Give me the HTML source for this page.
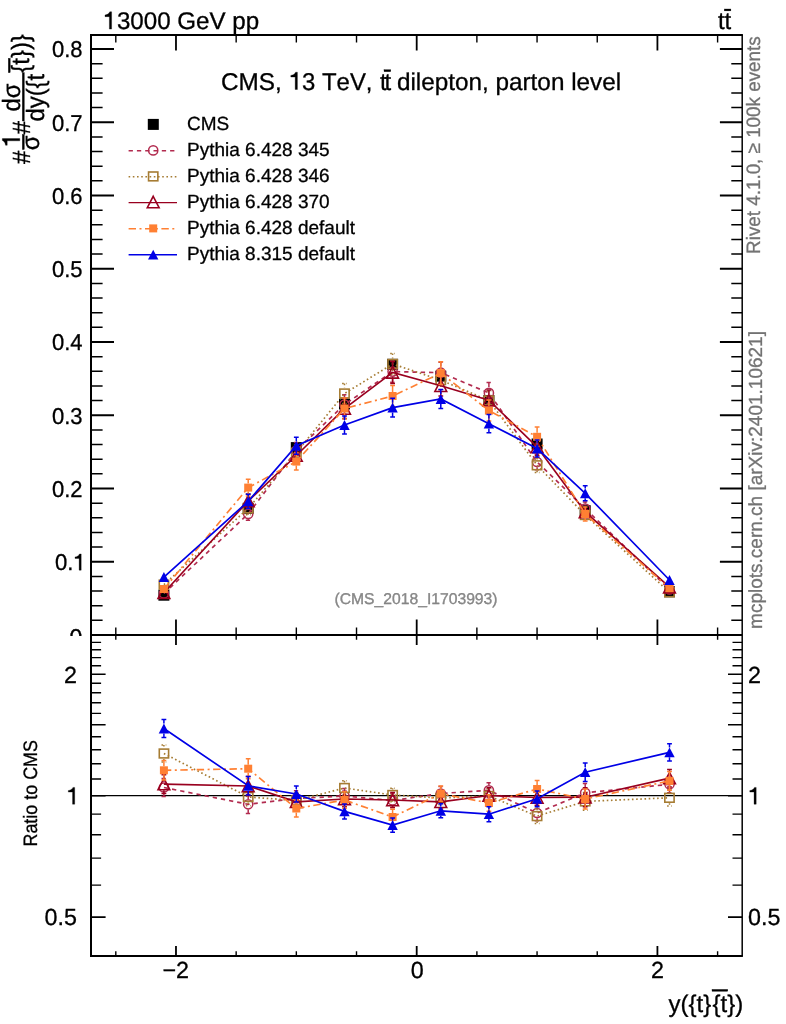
<!DOCTYPE html>
<html><head><meta charset="utf-8"><title>plot</title>
<style>html,body{margin:0;padding:0;background:#fff}svg{display:block;will-change:transform}text{font-kerning:none}</style></head>
<body>
<svg width="786" height="1024" viewBox="0 0 786 1024" font-family="Liberation Sans, sans-serif" text-rendering="geometricPrecision">
<rect width="786" height="1024" fill="#fff"/>
<defs><clipPath id="cm"><rect x="91.0" y="35.0" width="651.0" height="600.0"/></clipPath><clipPath id="cr"><rect x="91.0" y="635.0" width="651.0" height="321.0"/></clipPath></defs>
<g clip-path="url(#cm)">
<rect x="158.4" y="589.7" width="11" height="11" fill="#000"/>
<rect x="242.7" y="502.8" width="11" height="11" fill="#000"/>
<rect x="290.8" y="442.1" width="11" height="11" fill="#000"/>
<rect x="339.0" y="398.5" width="11" height="11" fill="#000"/>
<rect x="387.1" y="358.8" width="11" height="11" fill="#000"/>
<rect x="435.3" y="370.7" width="11" height="11" fill="#000"/>
<rect x="483.4" y="395.0" width="11" height="11" fill="#000"/>
<rect x="531.6" y="438.5" width="11" height="11" fill="#000"/>
<rect x="579.7" y="505.2" width="11" height="11" fill="#000"/>
<rect x="664.0" y="586.3" width="11" height="11" fill="#000"/>
<polyline points="163.9,593.5 248.2,513.9 296.3,450.6 344.5,404.5 392.6,371.6 440.8,372.7 488.9,392.9 537.1,462.0 585.2,508.6 669.5,589.5" fill="none" stroke="#b22b4f" stroke-width="1.68" stroke-dasharray="4.3 4"/>
<path d="M248.2 507.6V508.7M248.2 519.1V520.2M245.8 507.6h4.8M245.8 520.2h4.8" stroke="#b22b4f" stroke-width="1.5" fill="none" stroke-dasharray="4.3 4"/>
<path d="M296.3 442.4V445.4M296.3 455.8V458.8M293.9 442.4h4.8M293.9 458.8h4.8" stroke="#b22b4f" stroke-width="1.5" fill="none" stroke-dasharray="4.3 4"/>
<path d="M344.5 394.7V399.3M344.5 409.7V414.3M342.1 394.7h4.8M342.1 414.3h4.8" stroke="#b22b4f" stroke-width="1.5" fill="none" stroke-dasharray="4.3 4"/>
<path d="M392.6 360.9V366.4M392.6 376.8V382.3M390.2 360.9h4.8M390.2 382.3h4.8" stroke="#b22b4f" stroke-width="1.5" fill="none" stroke-dasharray="4.3 4"/>
<path d="M440.8 362.3V367.5M440.8 377.9V383.1M438.4 362.3h4.8M438.4 383.1h4.8" stroke="#b22b4f" stroke-width="1.5" fill="none" stroke-dasharray="4.3 4"/>
<path d="M488.9 382.6V387.7M488.9 398.1V403.2M486.5 382.6h4.8M486.5 403.2h4.8" stroke="#b22b4f" stroke-width="1.5" fill="none" stroke-dasharray="4.3 4"/>
<path d="M537.1 454.3V456.8M537.1 467.2V469.7M534.7 454.3h4.8M534.7 469.7h4.8" stroke="#b22b4f" stroke-width="1.5" fill="none" stroke-dasharray="4.3 4"/>
<path d="M585.2 502.0V503.4M585.2 513.8V515.2M582.8 502.0h4.8M582.8 515.2h4.8" stroke="#b22b4f" stroke-width="1.5" fill="none" stroke-dasharray="4.3 4"/>
<circle cx="163.9" cy="593.5" r="4.6" fill="none" stroke="#b22b4f" stroke-width="1.5"/>
<circle cx="248.2" cy="513.9" r="4.6" fill="none" stroke="#b22b4f" stroke-width="1.5"/>
<circle cx="296.3" cy="450.6" r="4.6" fill="none" stroke="#b22b4f" stroke-width="1.5"/>
<circle cx="344.5" cy="404.5" r="4.6" fill="none" stroke="#b22b4f" stroke-width="1.5"/>
<circle cx="392.6" cy="371.6" r="4.6" fill="none" stroke="#b22b4f" stroke-width="1.5"/>
<circle cx="440.8" cy="372.7" r="4.6" fill="none" stroke="#b22b4f" stroke-width="1.5"/>
<circle cx="488.9" cy="392.9" r="4.6" fill="none" stroke="#b22b4f" stroke-width="1.5"/>
<circle cx="537.1" cy="462.0" r="4.6" fill="none" stroke="#b22b4f" stroke-width="1.5"/>
<circle cx="585.2" cy="508.6" r="4.6" fill="none" stroke="#b22b4f" stroke-width="1.5"/>
<circle cx="669.5" cy="589.5" r="4.6" fill="none" stroke="#b22b4f" stroke-width="1.5"/>
<polyline points="163.9,584.6 248.2,508.4 296.3,452.7 344.5,393.5 392.6,364.0 440.8,380.1 488.9,400.5 537.1,465.3 585.2,515.0 669.5,592.3" fill="none" stroke="#a67c33" stroke-width="1.68" stroke-dasharray="1.6 2.6"/>
<path d="M248.2 502.0V503.0M248.2 513.8V514.8M245.8 502.0h4.8M245.8 514.8h4.8" stroke="#a67c33" stroke-width="1.5" fill="none" stroke-dasharray="1.6 2.6"/>
<path d="M296.3 444.9V447.3M296.3 458.1V460.5M293.9 444.9h4.8M293.9 460.5h4.8" stroke="#a67c33" stroke-width="1.5" fill="none" stroke-dasharray="1.6 2.6"/>
<path d="M344.5 383.6V388.1M344.5 398.9V403.4M342.1 383.6h4.8M342.1 403.4h4.8" stroke="#a67c33" stroke-width="1.5" fill="none" stroke-dasharray="1.6 2.6"/>
<path d="M392.6 353.4V358.6M392.6 369.4V374.6M390.2 353.4h4.8M390.2 374.6h4.8" stroke="#a67c33" stroke-width="1.5" fill="none" stroke-dasharray="1.6 2.6"/>
<path d="M440.8 370.4V374.7M440.8 385.5V389.8M438.4 370.4h4.8M438.4 389.8h4.8" stroke="#a67c33" stroke-width="1.5" fill="none" stroke-dasharray="1.6 2.6"/>
<path d="M488.9 390.9V395.1M488.9 405.9V410.1M486.5 390.9h4.8M486.5 410.1h4.8" stroke="#a67c33" stroke-width="1.5" fill="none" stroke-dasharray="1.6 2.6"/>
<path d="M537.1 458.0V459.9M537.1 470.7V472.6M534.7 458.0h4.8M534.7 472.6h4.8" stroke="#a67c33" stroke-width="1.5" fill="none" stroke-dasharray="1.6 2.6"/>
<rect x="159.29" y="580.20" width="9.3" height="8.8" fill="none" stroke="#a67c33" stroke-width="1.6"/>
<rect x="243.55" y="504.00" width="9.3" height="8.8" fill="none" stroke="#a67c33" stroke-width="1.6"/>
<rect x="291.69" y="448.30" width="9.3" height="8.8" fill="none" stroke="#a67c33" stroke-width="1.6"/>
<rect x="339.83" y="389.10" width="9.3" height="8.8" fill="none" stroke="#a67c33" stroke-width="1.6"/>
<rect x="387.98" y="359.60" width="9.3" height="8.8" fill="none" stroke="#a67c33" stroke-width="1.6"/>
<rect x="436.12" y="375.70" width="9.3" height="8.8" fill="none" stroke="#a67c33" stroke-width="1.6"/>
<rect x="484.27" y="396.10" width="9.3" height="8.8" fill="none" stroke="#a67c33" stroke-width="1.6"/>
<rect x="532.41" y="460.90" width="9.3" height="8.8" fill="none" stroke="#a67c33" stroke-width="1.6"/>
<rect x="580.55" y="510.60" width="9.3" height="8.8" fill="none" stroke="#a67c33" stroke-width="1.6"/>
<rect x="664.81" y="587.90" width="9.3" height="8.8" fill="none" stroke="#a67c33" stroke-width="1.6"/>
<polyline points="163.9,592.7 248.2,501.1 296.3,455.5 344.5,408.6 392.6,372.4 440.8,385.8 488.9,400.2 537.1,447.0 585.2,512.0 669.5,587.2" fill="none" stroke="#99001f" stroke-width="1.68"/>
<path d="M248.2 493.9V494.9M248.2 507.3V508.3M245.8 493.9h4.8M245.8 508.3h4.8" stroke="#99001f" stroke-width="1.5" fill="none"/>
<path d="M296.3 447.2V449.3M296.3 461.7V463.8M293.9 447.2h4.8M293.9 463.8h4.8" stroke="#99001f" stroke-width="1.5" fill="none"/>
<path d="M344.5 398.6V402.4M344.5 414.8V418.6M342.1 398.6h4.8M342.1 418.6h4.8" stroke="#99001f" stroke-width="1.5" fill="none"/>
<path d="M392.6 361.4V366.2M392.6 378.6V383.4M390.2 361.4h4.8M390.2 383.4h4.8" stroke="#99001f" stroke-width="1.5" fill="none"/>
<path d="M440.8 375.6V379.6M440.8 392.0V396.0M438.4 375.6h4.8M438.4 396.0h4.8" stroke="#99001f" stroke-width="1.5" fill="none"/>
<path d="M488.9 389.9V394.0M488.9 406.4V410.5M486.5 389.9h4.8M486.5 410.5h4.8" stroke="#99001f" stroke-width="1.5" fill="none"/>
<path d="M537.1 438.4V440.8M537.1 453.2V455.6M534.7 438.4h4.8M534.7 455.6h4.8" stroke="#99001f" stroke-width="1.5" fill="none"/>
<path d="M163.9 587.0 L169.8 598.4 L158.0 598.4 Z" fill="none" stroke="#99001f" stroke-width="1.6"/>
<path d="M248.2 495.4 L254.1 506.8 L242.3 506.8 Z" fill="none" stroke="#99001f" stroke-width="1.6"/>
<path d="M296.3 449.8 L302.2 461.2 L290.4 461.2 Z" fill="none" stroke="#99001f" stroke-width="1.6"/>
<path d="M344.5 402.9 L350.4 414.3 L338.6 414.3 Z" fill="none" stroke="#99001f" stroke-width="1.6"/>
<path d="M392.6 366.7 L398.5 378.1 L386.7 378.1 Z" fill="none" stroke="#99001f" stroke-width="1.6"/>
<path d="M440.8 380.1 L446.7 391.5 L434.9 391.5 Z" fill="none" stroke="#99001f" stroke-width="1.6"/>
<path d="M488.9 394.5 L494.8 405.9 L483.0 405.9 Z" fill="none" stroke="#99001f" stroke-width="1.6"/>
<path d="M537.1 441.3 L543.0 452.7 L531.2 452.7 Z" fill="none" stroke="#99001f" stroke-width="1.6"/>
<path d="M585.2 506.3 L591.1 517.7 L579.3 517.7 Z" fill="none" stroke="#99001f" stroke-width="1.6"/>
<path d="M669.5 581.5 L675.4 592.9 L663.6 592.9 Z" fill="none" stroke="#99001f" stroke-width="1.6"/>
<polyline points="163.9,589.0 248.2,487.6 296.3,461.6 344.5,408.5 392.6,396.0 440.8,373.1 488.9,410.6 537.1,436.8 585.2,514.0 669.5,588.2" fill="none" stroke="#ff8033" stroke-width="1.68" stroke-dasharray="7.4 3.5 2 3.5"/>
<path d="M248.2 479.2V483.6M248.2 491.6V496.0M245.8 479.2h4.8M245.8 496.0h4.8" stroke="#ff8033" stroke-width="1.5" fill="none" stroke-dasharray="7.4 3.5 2 3.5"/>
<path d="M296.3 453.1V457.6M296.3 465.6V470.1M293.9 453.1h4.8M293.9 470.1h4.8" stroke="#ff8033" stroke-width="1.5" fill="none" stroke-dasharray="7.4 3.5 2 3.5"/>
<path d="M344.5 397.9V404.5M344.5 412.5V419.1M342.1 397.9h4.8M342.1 419.1h4.8" stroke="#ff8033" stroke-width="1.5" fill="none" stroke-dasharray="7.4 3.5 2 3.5"/>
<path d="M392.6 385.4V392.0M392.6 400.0V406.6M390.2 385.4h4.8M390.2 406.6h4.8" stroke="#ff8033" stroke-width="1.5" fill="none" stroke-dasharray="7.4 3.5 2 3.5"/>
<path d="M440.8 361.7V369.1M440.8 377.1V384.5M438.4 361.7h4.8M438.4 384.5h4.8" stroke="#ff8033" stroke-width="1.5" fill="none" stroke-dasharray="7.4 3.5 2 3.5"/>
<path d="M488.9 400.1V406.6M488.9 414.6V421.1M486.5 400.1h4.8M486.5 421.1h4.8" stroke="#ff8033" stroke-width="1.5" fill="none" stroke-dasharray="7.4 3.5 2 3.5"/>
<path d="M537.1 427.1V432.8M537.1 440.8V446.5M534.7 427.1h4.8M534.7 446.5h4.8" stroke="#ff8033" stroke-width="1.5" fill="none" stroke-dasharray="7.4 3.5 2 3.5"/>
<path d="M585.2 507.1V510.0M585.2 518.0V520.9M582.8 507.1h4.8M582.8 520.9h4.8" stroke="#ff8033" stroke-width="1.5" fill="none" stroke-dasharray="7.4 3.5 2 3.5"/>
<rect x="159.9" y="585.0" width="8" height="8" fill="#ff8033"/>
<rect x="244.2" y="483.6" width="8" height="8" fill="#ff8033"/>
<rect x="292.3" y="457.6" width="8" height="8" fill="#ff8033"/>
<rect x="340.5" y="404.5" width="8" height="8" fill="#ff8033"/>
<rect x="388.6" y="392.0" width="8" height="8" fill="#ff8033"/>
<rect x="436.8" y="369.1" width="8" height="8" fill="#ff8033"/>
<rect x="484.9" y="406.6" width="8" height="8" fill="#ff8033"/>
<rect x="533.1" y="432.8" width="8" height="8" fill="#ff8033"/>
<rect x="581.2" y="510.0" width="8" height="8" fill="#ff8033"/>
<rect x="665.5" y="584.2" width="8" height="8" fill="#ff8033"/>
<polyline points="163.9,577.0 248.2,501.3 296.3,445.8 344.5,425.0 392.6,407.6 440.8,399.0 488.9,423.7 537.1,448.5 585.2,493.3 669.5,580.0" fill="none" stroke="#0000e6" stroke-width="1.68"/>
<path d="M248.2 494.2V496.4M248.2 506.2V508.4M245.8 494.2h4.8M245.8 508.4h4.8" stroke="#0000e6" stroke-width="1.5" fill="none"/>
<path d="M296.3 437.3V440.9M296.3 450.7V454.3M293.9 437.3h4.8M293.9 454.3h4.8" stroke="#0000e6" stroke-width="1.5" fill="none"/>
<path d="M344.5 415.9V420.1M344.5 429.9V434.1M342.1 415.9h4.8M342.1 434.1h4.8" stroke="#0000e6" stroke-width="1.5" fill="none"/>
<path d="M392.6 398.2V402.7M392.6 412.5V417.0M390.2 398.2h4.8M390.2 417.0h4.8" stroke="#0000e6" stroke-width="1.5" fill="none"/>
<path d="M440.8 389.5V394.1M440.8 403.9V408.5M438.4 389.5h4.8M438.4 408.5h4.8" stroke="#0000e6" stroke-width="1.5" fill="none"/>
<path d="M488.9 414.6V418.8M488.9 428.6V432.8M486.5 414.6h4.8M486.5 432.8h4.8" stroke="#0000e6" stroke-width="1.5" fill="none"/>
<path d="M537.1 440.1V443.6M537.1 453.4V456.9M534.7 440.1h4.8M534.7 456.9h4.8" stroke="#0000e6" stroke-width="1.5" fill="none"/>
<path d="M585.2 485.8V488.4M585.2 498.2V500.8M582.8 485.8h4.8M582.8 500.8h4.8" stroke="#0000e6" stroke-width="1.5" fill="none"/>
<path d="M163.9 572.0 L169.1 581.9 L158.7 581.9 Z" fill="#0000e6"/>
<path d="M248.2 496.3 L253.4 506.2 L243.0 506.2 Z" fill="#0000e6"/>
<path d="M296.3 440.8 L301.5 450.7 L291.1 450.7 Z" fill="#0000e6"/>
<path d="M344.5 420.0 L349.7 429.9 L339.3 429.9 Z" fill="#0000e6"/>
<path d="M392.6 402.6 L397.8 412.5 L387.4 412.5 Z" fill="#0000e6"/>
<path d="M440.8 394.0 L446.0 403.9 L435.6 403.9 Z" fill="#0000e6"/>
<path d="M488.9 418.7 L494.1 428.6 L483.7 428.6 Z" fill="#0000e6"/>
<path d="M537.1 443.5 L542.3 453.4 L531.9 453.4 Z" fill="#0000e6"/>
<path d="M585.2 488.3 L590.4 498.2 L580.0 498.2 Z" fill="#0000e6"/>
<path d="M669.5 575.0 L674.7 584.9 L664.3 584.9 Z" fill="#0000e6"/>
</g>
<g clip-path="url(#cr)">
<line x1="91.0" x2="742.0" y1="795.7" y2="795.7" stroke="#000" stroke-width="1.2"/>
<polyline points="163.9,787.5 248.2,804.3 296.3,798.5 344.5,796.0 392.6,800.5 440.8,793.5 488.9,790.3 537.1,813.0 585.2,792.8 669.5,784.3" fill="none" stroke="#b22b4f" stroke-width="1.68" stroke-dasharray="4.3 4"/>
<path d="M163.9 778.5V782.3M163.9 792.7V796.5M161.5 778.5h4.8M161.5 796.5h4.8" stroke="#b22b4f" stroke-width="1.5" fill="none" stroke-dasharray="4.3 4"/>
<path d="M248.2 795.1V799.1M248.2 809.5V813.5M245.8 795.1h4.8M245.8 813.5h4.8" stroke="#b22b4f" stroke-width="1.5" fill="none" stroke-dasharray="4.3 4"/>
<path d="M296.3 790.7V793.3M296.3 803.7V806.3M293.9 790.7h4.8M293.9 806.3h4.8" stroke="#b22b4f" stroke-width="1.5" fill="none" stroke-dasharray="4.3 4"/>
<path d="M344.5 788.5V790.8M344.5 801.2V803.5M342.1 788.5h4.8M342.1 803.5h4.8" stroke="#b22b4f" stroke-width="1.5" fill="none" stroke-dasharray="4.3 4"/>
<path d="M392.6 793.4V795.3M392.6 805.7V807.6M390.2 793.4h4.8M390.2 807.6h4.8" stroke="#b22b4f" stroke-width="1.5" fill="none" stroke-dasharray="4.3 4"/>
<path d="M440.8 786.5V788.3M440.8 798.7V800.5M438.4 786.5h4.8M438.4 800.5h4.8" stroke="#b22b4f" stroke-width="1.5" fill="none" stroke-dasharray="4.3 4"/>
<path d="M488.9 782.8V785.1M488.9 795.5V797.8M486.5 782.8h4.8M486.5 797.8h4.8" stroke="#b22b4f" stroke-width="1.5" fill="none" stroke-dasharray="4.3 4"/>
<path d="M537.1 805.2V807.8M537.1 818.2V820.8M534.7 805.2h4.8M534.7 820.8h4.8" stroke="#b22b4f" stroke-width="1.5" fill="none" stroke-dasharray="4.3 4"/>
<path d="M585.2 783.6V787.6M585.2 798.0V802.0M582.8 783.6h4.8M582.8 802.0h4.8" stroke="#b22b4f" stroke-width="1.5" fill="none" stroke-dasharray="4.3 4"/>
<path d="M669.5 775.8V779.1M669.5 789.5V792.8M667.1 775.8h4.8M667.1 792.8h4.8" stroke="#b22b4f" stroke-width="1.5" fill="none" stroke-dasharray="4.3 4"/>
<circle cx="163.9" cy="787.5" r="4.6" fill="none" stroke="#b22b4f" stroke-width="1.5"/>
<circle cx="248.2" cy="804.3" r="4.6" fill="none" stroke="#b22b4f" stroke-width="1.5"/>
<circle cx="296.3" cy="798.5" r="4.6" fill="none" stroke="#b22b4f" stroke-width="1.5"/>
<circle cx="344.5" cy="796.0" r="4.6" fill="none" stroke="#b22b4f" stroke-width="1.5"/>
<circle cx="392.6" cy="800.5" r="4.6" fill="none" stroke="#b22b4f" stroke-width="1.5"/>
<circle cx="440.8" cy="793.5" r="4.6" fill="none" stroke="#b22b4f" stroke-width="1.5"/>
<circle cx="488.9" cy="790.3" r="4.6" fill="none" stroke="#b22b4f" stroke-width="1.5"/>
<circle cx="537.1" cy="813.0" r="4.6" fill="none" stroke="#b22b4f" stroke-width="1.5"/>
<circle cx="585.2" cy="792.8" r="4.6" fill="none" stroke="#b22b4f" stroke-width="1.5"/>
<circle cx="669.5" cy="784.3" r="4.6" fill="none" stroke="#b22b4f" stroke-width="1.5"/>
<polyline points="163.9,753.5 248.2,797.0 296.3,800.5 344.5,788.0 392.6,795.0 440.8,798.0 488.9,796.0 537.1,816.1 585.2,801.4 669.5,797.8" fill="none" stroke="#a67c33" stroke-width="1.68" stroke-dasharray="1.6 2.6"/>
<path d="M163.9 744.9V748.1M163.9 758.9V762.1M161.5 744.9h4.8M161.5 762.1h4.8" stroke="#a67c33" stroke-width="1.5" fill="none" stroke-dasharray="1.6 2.6"/>
<path d="M248.2 788.2V791.6M248.2 802.4V805.8M245.8 788.2h4.8M245.8 805.8h4.8" stroke="#a67c33" stroke-width="1.5" fill="none" stroke-dasharray="1.6 2.6"/>
<path d="M296.3 793.0V795.1M296.3 805.9V808.0M293.9 793.0h4.8M293.9 808.0h4.8" stroke="#a67c33" stroke-width="1.5" fill="none" stroke-dasharray="1.6 2.6"/>
<path d="M344.5 780.8V782.6M344.5 793.4V795.2M342.1 780.8h4.8M342.1 795.2h4.8" stroke="#a67c33" stroke-width="1.5" fill="none" stroke-dasharray="1.6 2.6"/>
<path d="M392.6 788.2V789.6M392.6 800.4V801.8M390.2 788.2h4.8M390.2 801.8h4.8" stroke="#a67c33" stroke-width="1.5" fill="none" stroke-dasharray="1.6 2.6"/>
<path d="M440.8 791.3V792.6M440.8 803.4V804.7M438.4 791.3h4.8M438.4 804.7h4.8" stroke="#a67c33" stroke-width="1.5" fill="none" stroke-dasharray="1.6 2.6"/>
<path d="M488.9 788.8V790.6M488.9 801.4V803.2M486.5 788.8h4.8M486.5 803.2h4.8" stroke="#a67c33" stroke-width="1.5" fill="none" stroke-dasharray="1.6 2.6"/>
<path d="M537.1 808.6V810.7M537.1 821.5V823.6M534.7 808.6h4.8M534.7 823.6h4.8" stroke="#a67c33" stroke-width="1.5" fill="none" stroke-dasharray="1.6 2.6"/>
<path d="M585.2 792.6V796.0M585.2 806.8V810.2M582.8 792.6h4.8M582.8 810.2h4.8" stroke="#a67c33" stroke-width="1.5" fill="none" stroke-dasharray="1.6 2.6"/>
<path d="M669.5 789.7V792.4M669.5 803.2V805.9M667.1 789.7h4.8M667.1 805.9h4.8" stroke="#a67c33" stroke-width="1.5" fill="none" stroke-dasharray="1.6 2.6"/>
<rect x="159.29" y="749.10" width="9.3" height="8.8" fill="none" stroke="#a67c33" stroke-width="1.6"/>
<rect x="243.55" y="792.60" width="9.3" height="8.8" fill="none" stroke="#a67c33" stroke-width="1.6"/>
<rect x="291.69" y="796.10" width="9.3" height="8.8" fill="none" stroke="#a67c33" stroke-width="1.6"/>
<rect x="339.83" y="783.60" width="9.3" height="8.8" fill="none" stroke="#a67c33" stroke-width="1.6"/>
<rect x="387.98" y="790.60" width="9.3" height="8.8" fill="none" stroke="#a67c33" stroke-width="1.6"/>
<rect x="436.12" y="793.60" width="9.3" height="8.8" fill="none" stroke="#a67c33" stroke-width="1.6"/>
<rect x="484.27" y="791.60" width="9.3" height="8.8" fill="none" stroke="#a67c33" stroke-width="1.6"/>
<rect x="532.41" y="811.70" width="9.3" height="8.8" fill="none" stroke="#a67c33" stroke-width="1.6"/>
<rect x="580.55" y="797.00" width="9.3" height="8.8" fill="none" stroke="#a67c33" stroke-width="1.6"/>
<rect x="664.81" y="793.40" width="9.3" height="8.8" fill="none" stroke="#a67c33" stroke-width="1.6"/>
<polyline points="163.9,784.1 248.2,786.0 296.3,801.8 344.5,799.0 392.6,800.0 440.8,801.8 488.9,795.5 537.1,797.5 585.2,797.2 669.5,778.1" fill="none" stroke="#99001f" stroke-width="1.68"/>
<path d="M163.9 774.8V777.9M163.9 790.3V793.4M161.5 774.8h4.8M161.5 793.4h4.8" stroke="#99001f" stroke-width="1.5" fill="none"/>
<path d="M248.2 776.5V779.8M248.2 792.2V795.5M245.8 776.5h4.8M245.8 795.5h4.8" stroke="#99001f" stroke-width="1.5" fill="none"/>
<path d="M296.3 793.8V795.6M296.3 808.0V809.8M293.9 793.8h4.8M293.9 809.8h4.8" stroke="#99001f" stroke-width="1.5" fill="none"/>
<path d="M344.5 791.3V792.8M344.5 805.2V806.7M342.1 791.3h4.8M342.1 806.7h4.8" stroke="#99001f" stroke-width="1.5" fill="none"/>
<path d="M392.6 792.6V793.8M392.6 806.2V807.4M390.2 792.6h4.8M390.2 807.4h4.8" stroke="#99001f" stroke-width="1.5" fill="none"/>
<path d="M440.8 794.6V795.6M440.8 808.0V809.0M438.4 794.6h4.8M438.4 809.0h4.8" stroke="#99001f" stroke-width="1.5" fill="none"/>
<path d="M488.9 787.8V789.3M488.9 801.7V803.2M486.5 787.8h4.8M486.5 803.2h4.8" stroke="#99001f" stroke-width="1.5" fill="none"/>
<path d="M537.1 789.5V791.3M537.1 803.7V805.5M534.7 789.5h4.8M534.7 805.5h4.8" stroke="#99001f" stroke-width="1.5" fill="none"/>
<path d="M585.2 787.8V791.0M585.2 803.4V806.7M582.8 787.8h4.8M582.8 806.7h4.8" stroke="#99001f" stroke-width="1.5" fill="none"/>
<path d="M669.5 769.4V771.9M669.5 784.3V786.9M667.1 769.4h4.8M667.1 786.9h4.8" stroke="#99001f" stroke-width="1.5" fill="none"/>
<path d="M163.9 778.4 L169.8 789.8 L158.0 789.8 Z" fill="none" stroke="#99001f" stroke-width="1.6"/>
<path d="M248.2 780.3 L254.1 791.7 L242.3 791.7 Z" fill="none" stroke="#99001f" stroke-width="1.6"/>
<path d="M296.3 796.1 L302.2 807.5 L290.4 807.5 Z" fill="none" stroke="#99001f" stroke-width="1.6"/>
<path d="M344.5 793.3 L350.4 804.7 L338.6 804.7 Z" fill="none" stroke="#99001f" stroke-width="1.6"/>
<path d="M392.6 794.3 L398.5 805.7 L386.7 805.7 Z" fill="none" stroke="#99001f" stroke-width="1.6"/>
<path d="M440.8 796.1 L446.7 807.5 L434.9 807.5 Z" fill="none" stroke="#99001f" stroke-width="1.6"/>
<path d="M488.9 789.8 L494.8 801.2 L483.0 801.2 Z" fill="none" stroke="#99001f" stroke-width="1.6"/>
<path d="M537.1 791.8 L543.0 803.2 L531.2 803.2 Z" fill="none" stroke="#99001f" stroke-width="1.6"/>
<path d="M585.2 791.5 L591.1 802.9 L579.3 802.9 Z" fill="none" stroke="#99001f" stroke-width="1.6"/>
<path d="M669.5 772.4 L675.4 783.8 L663.6 783.8 Z" fill="none" stroke="#99001f" stroke-width="1.6"/>
<polyline points="163.9,770.3 248.2,768.7 296.3,808.5 344.5,800.0 392.6,817.0 440.8,793.7 488.9,803.0 537.1,789.0 585.2,799.0 669.5,780.9" fill="none" stroke="#ff8033" stroke-width="1.68" stroke-dasharray="7.4 3.5 2 3.5"/>
<path d="M163.9 760.5V766.3M163.9 774.3V780.1M161.5 760.5h4.8M161.5 780.1h4.8" stroke="#ff8033" stroke-width="1.5" fill="none" stroke-dasharray="7.4 3.5 2 3.5"/>
<path d="M248.2 758.7V764.7M248.2 772.7V778.7M245.8 758.7h4.8M245.8 778.7h4.8" stroke="#ff8033" stroke-width="1.5" fill="none" stroke-dasharray="7.4 3.5 2 3.5"/>
<path d="M296.3 800.0V804.5M296.3 812.5V817.0M293.9 800.0h4.8M293.9 817.0h4.8" stroke="#ff8033" stroke-width="1.5" fill="none" stroke-dasharray="7.4 3.5 2 3.5"/>
<path d="M344.5 791.8V796.0M344.5 804.0V808.2M342.1 791.8h4.8M342.1 808.2h4.8" stroke="#ff8033" stroke-width="1.5" fill="none" stroke-dasharray="7.4 3.5 2 3.5"/>
<path d="M392.6 809.2V813.0M392.6 821.0V824.8M390.2 809.2h4.8M390.2 824.8h4.8" stroke="#ff8033" stroke-width="1.5" fill="none" stroke-dasharray="7.4 3.5 2 3.5"/>
<path d="M440.8 786.1V789.7M440.8 797.7V801.3M438.4 786.1h4.8M438.4 801.3h4.8" stroke="#ff8033" stroke-width="1.5" fill="none" stroke-dasharray="7.4 3.5 2 3.5"/>
<path d="M488.9 794.8V799.0M488.9 807.0V811.2M486.5 794.8h4.8M486.5 811.2h4.8" stroke="#ff8033" stroke-width="1.5" fill="none" stroke-dasharray="7.4 3.5 2 3.5"/>
<path d="M537.1 780.5V785.0M537.1 793.0V797.5M534.7 780.5h4.8M534.7 797.5h4.8" stroke="#ff8033" stroke-width="1.5" fill="none" stroke-dasharray="7.4 3.5 2 3.5"/>
<path d="M585.2 789.0V795.0M585.2 803.0V809.0M582.8 789.0h4.8M582.8 809.0h4.8" stroke="#ff8033" stroke-width="1.5" fill="none" stroke-dasharray="7.4 3.5 2 3.5"/>
<path d="M669.5 771.6V776.9M669.5 784.9V790.2M667.1 771.6h4.8M667.1 790.2h4.8" stroke="#ff8033" stroke-width="1.5" fill="none" stroke-dasharray="7.4 3.5 2 3.5"/>
<rect x="159.9" y="766.3" width="8" height="8" fill="#ff8033"/>
<rect x="244.2" y="764.7" width="8" height="8" fill="#ff8033"/>
<rect x="292.3" y="804.5" width="8" height="8" fill="#ff8033"/>
<rect x="340.5" y="796.0" width="8" height="8" fill="#ff8033"/>
<rect x="388.6" y="813.0" width="8" height="8" fill="#ff8033"/>
<rect x="436.8" y="789.7" width="8" height="8" fill="#ff8033"/>
<rect x="484.9" y="799.0" width="8" height="8" fill="#ff8033"/>
<rect x="533.1" y="785.0" width="8" height="8" fill="#ff8033"/>
<rect x="581.2" y="795.0" width="8" height="8" fill="#ff8033"/>
<rect x="665.5" y="776.9" width="8" height="8" fill="#ff8033"/>
<polyline points="163.9,728.5 248.2,785.8 296.3,794.0 344.5,811.4 392.6,825.1 440.8,810.8 488.9,814.2 537.1,798.8 585.2,772.2 669.5,752.4" fill="none" stroke="#0000e6" stroke-width="1.68"/>
<path d="M163.9 719.4V723.6M163.9 733.4V737.6M161.5 719.4h4.8M161.5 737.6h4.8" stroke="#0000e6" stroke-width="1.5" fill="none"/>
<path d="M248.2 776.5V780.9M248.2 790.7V795.1M245.8 776.5h4.8M245.8 795.1h4.8" stroke="#0000e6" stroke-width="1.5" fill="none"/>
<path d="M296.3 786.1V789.1M296.3 798.9V801.9M293.9 786.1h4.8M293.9 801.9h4.8" stroke="#0000e6" stroke-width="1.5" fill="none"/>
<path d="M344.5 803.9V806.5M344.5 816.3V818.9M342.1 803.9h4.8M342.1 818.9h4.8" stroke="#0000e6" stroke-width="1.5" fill="none"/>
<path d="M392.6 817.9V820.2M392.6 830.0V832.3M390.2 817.9h4.8M390.2 832.3h4.8" stroke="#0000e6" stroke-width="1.5" fill="none"/>
<path d="M440.8 803.8V805.9M440.8 815.7V817.8M438.4 803.8h4.8M438.4 817.8h4.8" stroke="#0000e6" stroke-width="1.5" fill="none"/>
<path d="M488.9 806.7V809.3M488.9 819.1V821.7M486.5 806.7h4.8M486.5 821.7h4.8" stroke="#0000e6" stroke-width="1.5" fill="none"/>
<path d="M537.1 790.9V793.9M537.1 803.7V806.7M534.7 790.9h4.8M534.7 806.7h4.8" stroke="#0000e6" stroke-width="1.5" fill="none"/>
<path d="M585.2 762.9V767.3M585.2 777.1V781.5M582.8 762.9h4.8M582.8 781.5h4.8" stroke="#0000e6" stroke-width="1.5" fill="none"/>
<path d="M669.5 743.8V747.5M669.5 757.3V761.0M667.1 743.8h4.8M667.1 761.0h4.8" stroke="#0000e6" stroke-width="1.5" fill="none"/>
<path d="M163.9 723.5 L169.1 733.4 L158.7 733.4 Z" fill="#0000e6"/>
<path d="M248.2 780.8 L253.4 790.7 L243.0 790.7 Z" fill="#0000e6"/>
<path d="M296.3 789.0 L301.5 798.9 L291.1 798.9 Z" fill="#0000e6"/>
<path d="M344.5 806.4 L349.7 816.3 L339.3 816.3 Z" fill="#0000e6"/>
<path d="M392.6 820.1 L397.8 830.0 L387.4 830.0 Z" fill="#0000e6"/>
<path d="M440.8 805.8 L446.0 815.7 L435.6 815.7 Z" fill="#0000e6"/>
<path d="M488.9 809.2 L494.1 819.1 L483.7 819.1 Z" fill="#0000e6"/>
<path d="M537.1 793.8 L542.3 803.7 L531.9 803.7 Z" fill="#0000e6"/>
<path d="M585.2 767.2 L590.4 777.1 L580.0 777.1 Z" fill="#0000e6"/>
<path d="M669.5 747.4 L674.7 757.3 L664.3 757.3 Z" fill="#0000e6"/>
</g>
<g stroke="#000" fill="none"><path d="M91.0 620.35h11.6M742.0 620.35h-10.7" stroke-width="1.5"/>
<path d="M91.0 605.70h11.6M742.0 605.70h-10.7" stroke-width="1.5"/>
<path d="M91.0 591.05h11.6M742.0 591.05h-10.7" stroke-width="1.5"/>
<path d="M91.0 576.40h11.6M742.0 576.40h-10.7" stroke-width="1.5"/>
<path d="M91.0 561.75h23M742.0 561.75h-22.1" stroke-width="1.8"/>
<path d="M91.0 547.10h11.6M742.0 547.10h-10.7" stroke-width="1.5"/>
<path d="M91.0 532.45h11.6M742.0 532.45h-10.7" stroke-width="1.5"/>
<path d="M91.0 517.80h11.6M742.0 517.80h-10.7" stroke-width="1.5"/>
<path d="M91.0 503.15h11.6M742.0 503.15h-10.7" stroke-width="1.5"/>
<path d="M91.0 488.50h23M742.0 488.50h-22.1" stroke-width="1.8"/>
<path d="M91.0 473.85h11.6M742.0 473.85h-10.7" stroke-width="1.5"/>
<path d="M91.0 459.20h11.6M742.0 459.20h-10.7" stroke-width="1.5"/>
<path d="M91.0 444.55h11.6M742.0 444.55h-10.7" stroke-width="1.5"/>
<path d="M91.0 429.90h11.6M742.0 429.90h-10.7" stroke-width="1.5"/>
<path d="M91.0 415.25h23M742.0 415.25h-22.1" stroke-width="1.8"/>
<path d="M91.0 400.60h11.6M742.0 400.60h-10.7" stroke-width="1.5"/>
<path d="M91.0 385.95h11.6M742.0 385.95h-10.7" stroke-width="1.5"/>
<path d="M91.0 371.30h11.6M742.0 371.30h-10.7" stroke-width="1.5"/>
<path d="M91.0 356.65h11.6M742.0 356.65h-10.7" stroke-width="1.5"/>
<path d="M91.0 342.00h23M742.0 342.00h-22.1" stroke-width="1.8"/>
<path d="M91.0 327.35h11.6M742.0 327.35h-10.7" stroke-width="1.5"/>
<path d="M91.0 312.70h11.6M742.0 312.70h-10.7" stroke-width="1.5"/>
<path d="M91.0 298.05h11.6M742.0 298.05h-10.7" stroke-width="1.5"/>
<path d="M91.0 283.40h11.6M742.0 283.40h-10.7" stroke-width="1.5"/>
<path d="M91.0 268.75h23M742.0 268.75h-22.1" stroke-width="1.8"/>
<path d="M91.0 254.10h11.6M742.0 254.10h-10.7" stroke-width="1.5"/>
<path d="M91.0 239.45h11.6M742.0 239.45h-10.7" stroke-width="1.5"/>
<path d="M91.0 224.80h11.6M742.0 224.80h-10.7" stroke-width="1.5"/>
<path d="M91.0 210.15h11.6M742.0 210.15h-10.7" stroke-width="1.5"/>
<path d="M91.0 195.50h23M742.0 195.50h-22.1" stroke-width="1.8"/>
<path d="M91.0 180.85h11.6M742.0 180.85h-10.7" stroke-width="1.5"/>
<path d="M91.0 166.20h11.6M742.0 166.20h-10.7" stroke-width="1.5"/>
<path d="M91.0 151.55h11.6M742.0 151.55h-10.7" stroke-width="1.5"/>
<path d="M91.0 136.90h11.6M742.0 136.90h-10.7" stroke-width="1.5"/>
<path d="M91.0 122.25h23M742.0 122.25h-22.1" stroke-width="1.8"/>
<path d="M91.0 107.60h11.6M742.0 107.60h-10.7" stroke-width="1.5"/>
<path d="M91.0 92.95h11.6M742.0 92.95h-10.7" stroke-width="1.5"/>
<path d="M91.0 78.30h11.6M742.0 78.30h-10.7" stroke-width="1.5"/>
<path d="M91.0 63.65h11.6M742.0 63.65h-10.7" stroke-width="1.5"/>
<path d="M91.0 49.00h23M742.0 49.00h-22.1" stroke-width="1.8"/>
<path d="M115.80 35.0v7.5M115.80 627.5V639.8M115.80 956.0v-4.8" stroke-width="1.4"/>
<path d="M175.98 35.0v15.5M175.98 619.5V645.0M175.98 956.0v-10" stroke-width="1.8"/>
<path d="M236.16 35.0v7.5M236.16 627.5V639.8M236.16 956.0v-4.8" stroke-width="1.4"/>
<path d="M296.34 35.0v7.5M296.34 627.5V639.8M296.34 956.0v-4.8" stroke-width="1.4"/>
<path d="M356.52 35.0v7.5M356.52 627.5V639.8M356.52 956.0v-4.8" stroke-width="1.4"/>
<path d="M416.70 35.0v15.5M416.70 619.5V645.0M416.70 956.0v-10" stroke-width="1.8"/>
<path d="M476.88 35.0v7.5M476.88 627.5V639.8M476.88 956.0v-4.8" stroke-width="1.4"/>
<path d="M537.06 35.0v7.5M537.06 627.5V639.8M537.06 956.0v-4.8" stroke-width="1.4"/>
<path d="M597.24 35.0v7.5M597.24 627.5V639.8M597.24 956.0v-4.8" stroke-width="1.4"/>
<path d="M657.42 35.0v15.5M657.42 619.5V645.0M657.42 956.0v-10" stroke-width="1.8"/>
<path d="M717.60 35.0v7.5M717.60 627.5V639.8M717.60 956.0v-4.8" stroke-width="1.4"/>
<path d="M91.0 917.11h14.6M742.0 917.11h-14.0" stroke-width="1.6"/>
<path d="M91.0 885.17h10.1M742.0 885.17h-9.5" stroke-width="1.4"/>
<path d="M91.0 858.17h10.1M742.0 858.17h-9.5" stroke-width="1.4"/>
<path d="M91.0 834.78h10.1M742.0 834.78h-9.5" stroke-width="1.4"/>
<path d="M91.0 814.15h10.1M742.0 814.15h-9.5" stroke-width="1.4"/>
<path d="M91.0 795.70h14.6M742.0 795.70h-14.0" stroke-width="1.6"/>
<path d="M91.0 779.01h10.1M742.0 779.01h-9.5" stroke-width="1.4"/>
<path d="M91.0 763.77h10.1M742.0 763.77h-9.5" stroke-width="1.4"/>
<path d="M91.0 749.75h10.1M742.0 749.75h-9.5" stroke-width="1.4"/>
<path d="M91.0 736.77h10.1M742.0 736.77h-9.5" stroke-width="1.4"/>
<path d="M91.0 724.68h14.6M742.0 724.68h-14.0" stroke-width="1.6"/>
<path d="M91.0 713.38h10.1M742.0 713.38h-9.5" stroke-width="1.4"/>
<path d="M91.0 702.76h10.1M742.0 702.76h-9.5" stroke-width="1.4"/>
<path d="M91.0 692.75h10.1M742.0 692.75h-9.5" stroke-width="1.4"/>
<path d="M91.0 683.28h10.1M742.0 683.28h-9.5" stroke-width="1.4"/>
<path d="M91.0 674.29h14.6M742.0 674.29h-14.0" stroke-width="1.6"/>
<path d="M91.0 665.75h10.1M742.0 665.75h-9.5" stroke-width="1.4"/>
<path d="M91.0 657.60h10.1M742.0 657.60h-9.5" stroke-width="1.4"/>
<path d="M91.0 649.82h10.1M742.0 649.82h-9.5" stroke-width="1.4"/>
<path d="M91.0 642.36h10.1M742.0 642.36h-9.5" stroke-width="1.4"/></g>
<g stroke="#000" stroke-width="2" fill="none"><path d="M742.9 35.0H91.0V956.0H742.9M91.0 635.0H742.0"/><path d="M742.2 35.0V956.0" stroke-width="1.5"/></g>
<g fill="#000" stroke="#000" stroke-width="0.3">
<path transform="translate(111.60,29.10) scale(1.030)" d="M0 0H-2.15V-12.1H-6.4V-13.7C-4.2 -13.9 -2.5 -15.1 -1.75 -16.8H0Z" />
<text x="116.93" y="29.3" font-size="24.15">3000 GeV pp</text>
<text x="717.9" y="29.3" font-size="24">t</text><text x="724.5" y="29.3" font-size="24">t</text><rect x="724.3" y="9" width="6.6" height="1.9"/>
<text x="221" y="89.6" font-size="24.3">CMS,</text>
<path transform="translate(297.40,89.50) scale(1.030)" d="M0 0H-2.15V-12.1H-6.4V-13.7C-4.2 -13.9 -2.5 -15.1 -1.75 -16.8H0Z" />
<text x="302.03" y="89.6" font-size="24.3" textLength="70.5" lengthAdjust="spacingAndGlyphs">3 TeV,</text>
<text x="379.9" y="89.9" font-size="24">t</text><text x="384.5" y="89.9" font-size="24">t</text><rect x="384" y="69.7" width="6.8" height="2"/>
<text x="396.9" y="89.6" font-size="24.3">dilepton, parton level</text>
<text x="73.4" y="570.1" font-size="22.9" text-anchor="end" textLength="18.4" lengthAdjust="spacingAndGlyphs">0.</text>
<path transform="translate(81.20,570.15) scale(0.965)" d="M0 0H-2.15V-12.1H-6.4V-13.7C-4.2 -13.9 -2.5 -15.1 -1.75 -16.8H0Z" />
<text x="82.6" y="496.9" font-size="22.9" text-anchor="end" textLength="30.6" lengthAdjust="spacingAndGlyphs">0.2</text>
<text x="82.6" y="423.6" font-size="22.9" text-anchor="end" textLength="30.6" lengthAdjust="spacingAndGlyphs">0.3</text>
<text x="82.6" y="350.4" font-size="22.9" text-anchor="end" textLength="30.6" lengthAdjust="spacingAndGlyphs">0.4</text>
<text x="82.6" y="277.1" font-size="22.9" text-anchor="end" textLength="30.6" lengthAdjust="spacingAndGlyphs">0.5</text>
<text x="82.6" y="203.9" font-size="22.9" text-anchor="end" textLength="30.6" lengthAdjust="spacingAndGlyphs">0.6</text>
<text x="82.6" y="130.7" font-size="22.9" text-anchor="end" textLength="30.6" lengthAdjust="spacingAndGlyphs">0.7</text>
<text x="82.6" y="57.4" font-size="22.9" text-anchor="end" textLength="30.6" lengthAdjust="spacingAndGlyphs">0.8</text>
<clipPath id="c0"><rect x="0" y="0" width="90" height="636"/></clipPath><text x="82.3" y="644.7" font-size="22.9" text-anchor="end" clip-path="url(#c0)">0</text>
<text x="77" y="682.5" font-size="23.3" text-anchor="end">2</text>
<text x="748" y="682.5" font-size="23.3">2</text>
<path transform="translate(74.70,804.20) scale(1.000)" d="M0 0H-2.15V-12.1H-6.4V-13.7C-4.2 -13.9 -2.5 -15.1 -1.75 -16.8H0Z" />
<path transform="translate(756.20,804.20) scale(1.000)" d="M0 0H-2.15V-12.1H-6.4V-13.7C-4.2 -13.9 -2.5 -15.1 -1.75 -16.8H0Z" />
<text x="77" y="925.3" font-size="23.3" text-anchor="end">0.5</text>
<text x="748" y="925.3" font-size="23.3">0.5</text>
<text x="175.7" y="977.8" font-size="23.3" text-anchor="middle">−2</text>
<text x="417.2" y="977.9" font-size="23.3" text-anchor="middle">0</text>
<text x="657.4" y="977.8" font-size="23.3" text-anchor="middle">2</text>
<text x="668.5" y="1011.6" font-size="24">y({t}</text><text x="743.3" y="1011.6" font-size="24" text-anchor="end">{t})</text><rect x="712" y="989.4" width="15.8" height="1.9"/>
<text transform="translate(36.9,846.5) rotate(-90)" font-size="19.4" textLength="106.4" lengthAdjust="spacingAndGlyphs">Ratio to CMS</text>
<text x="187" y="130.4" font-size="19">CMS</text>
<text x="187" y="156.4" font-size="19">Pythia 6.428 345</text>
<text x="187" y="182.4" font-size="19">Pythia 6.428 346</text>
<text x="187" y="208.3" font-size="19">Pythia 6.428 370</text>
<text x="187" y="234.4" font-size="19">Pythia 6.428 default</text>
<text x="187" y="260.4" font-size="19">Pythia 8.315 default</text>
</g>
<rect x="147.8" y="118.9" width="11" height="11" fill="#000"/>
<line x1="128.6" x2="177" y1="150.7" y2="150.7" stroke="#b22b4f" stroke-width="1.45" stroke-dasharray="4.3 4"/>
<circle cx="153.2" cy="150.4" r="4.6" fill="none" stroke="#b22b4f" stroke-width="1.5"/>
<line x1="128.6" x2="177" y1="176.7" y2="176.7" stroke="#a67c33" stroke-width="1.45" stroke-dasharray="1.6 2.6"/>
<rect x="148.55" y="172.00" width="9.3" height="8.8" fill="none" stroke="#a67c33" stroke-width="1.6"/>
<line x1="128.6" x2="177" y1="202.6" y2="202.6" stroke="#99001f" stroke-width="1.45"/>
<path d="M153.2 196.3 L159.1 207.7 L147.3 207.7 Z" fill="none" stroke="#99001f" stroke-width="1.6"/>
<line x1="128.6" x2="177" y1="228.7" y2="228.7" stroke="#ff8033" stroke-width="1.45" stroke-dasharray="7.4 3.5 2 3.5"/>
<rect x="149.2" y="224.4" width="8" height="8" fill="#ff8033"/>
<line x1="128.6" x2="177" y1="254.7" y2="254.7" stroke="#0000e6" stroke-width="1.45"/>
<path d="M153.2 249.7 L158.4 259.6 L148.0 259.6 Z" fill="#0000e6"/>
<g fill="#737373" stroke="#737373" stroke-width="0.3">
<text x="416" y="603.8" font-size="15.7" text-anchor="middle" fill="#8c8c8c">(CMS_2018_I1703993)</text>
<text transform="translate(760,253.9) rotate(-90)" font-size="19.4" textLength="217.6" lengthAdjust="spacingAndGlyphs">Rivet 4.1.0, ≥ 100k events</text>
<text transform="translate(762.1,628.9) rotate(-90)" font-size="19">mcplots.cern.ch [arXiv:2401.10621]</text>
</g>
<g transform="translate(0,164.2) rotate(-90)" fill="#000" stroke="#000" stroke-width="0.3" font-size="25">
<text transform="translate(0.2,29.6) scale(0.955,1)" text-anchor="start">#</text>
<rect x="14.6" y="22.3" width="15.2" height="2"/>
<path transform="translate(25.60,19.80) scale(1.040)" d="M0 0H-2.15V-12.1H-6.4V-13.7C-4.2 -13.9 -2.5 -15.1 -1.75 -16.8H0Z" />
<text transform="translate(21.4,39.4) scale(0.955,1)" text-anchor="middle">σ</text>
<text transform="translate(30.0,29.6) scale(0.955,1)" text-anchor="start">#</text>
<rect x="43.2" y="22.3" width="48.3" height="2"/>
<text transform="translate(66.7,19.6) scale(0.955,1)" text-anchor="middle">dσ</text>
<text transform="translate(66.5,44.4) scale(0.955,1)" text-anchor="middle">dy({t</text>
<text transform="translate(91.5,29.3) scale(0.955,1)" text-anchor="start">{t})}</text>
<rect x="91.5" y="8.3" width="14.4" height="1.9"/>
</g>
</svg>
</body></html>
